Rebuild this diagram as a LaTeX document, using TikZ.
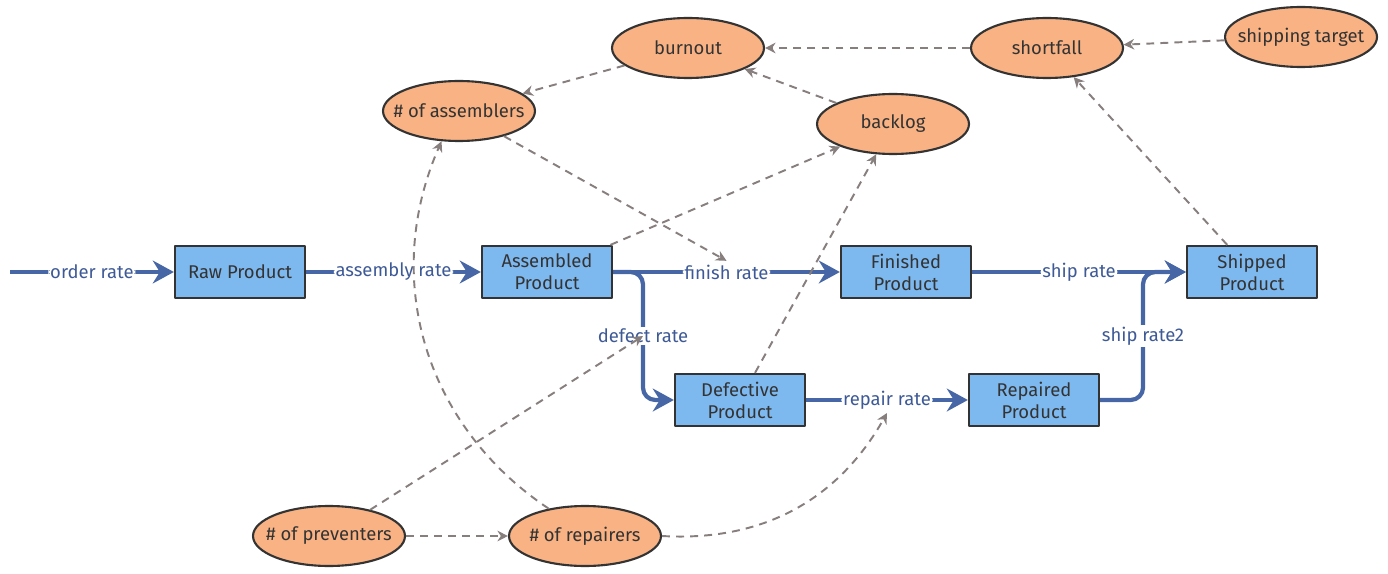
\documentclass[tikz,border=0pt]{standalone}
\usepackage{fontspec}
\setmainfont{Fira Sans}
\usetikzlibrary{arrows.meta,shapes.geometric}

\definecolor{stockblue}{RGB}{125,184,238}
\definecolor{auxorange}{RGB}{248,178,131}
\definecolor{flowblue}{RGB}{70,102,165}
\definecolor{ratetext}{RGB}{62,90,150}
\definecolor{linkgray}{RGB}{135,126,126}
\definecolor{nodetext}{RGB}{51,51,51}

\begin{document}
\begin{tikzpicture}[x=0.02cm, y=-0.02cm,
	line join=round,
	label font/.style={font=\fontsize{10.5}{12.5}\selectfont},
	stock/.style={draw=nodetext, line width=1.3pt, fill=stockblue, 
		minimum width=2.6cm, minimum height=1.04cm, align=center, 
		text=nodetext, inner sep=1pt, label font},
	aux/.style={ellipse, draw=nodetext, line width=1.2pt, fill=auxorange, 
		minimum width=3.04cm, minimum height=1.2cm, inner xsep=-7pt, 
		inner ysep=1pt, text=nodetext, label font},
	flow/.style={flowblue, line width=2.4pt, rounded corners=7pt, 
		-{Stealth[length=12pt, width=13pt, inset=4pt]}},
	rate/.style={fill=white, text=ratetext, inner sep=1pt, label font},
	link/.style={linkgray, line width=1.1pt, dash pattern=on 4.5pt off 3.5pt, 
		-{Stealth[length=6pt, width=6pt]}}]
	
	\useasboundingbox (0,0) rectangle (1388,574);
	
	% stocks
	\node [stock] (raw) at (240,272) {Raw Product};
	\node [stock] (assembled) at (547,272) {Assembled\\Product};
	\node [stock] (finished) at (906,272) {Finished\\Product};
	\node [stock] (shipped) at (1252,272) {Shipped\\Product};
	\node [stock] (defective) at (740,400) {Defective\\Product};
	\node [stock] (repaired) at (1034,400) {Repaired\\Product};
	
	% auxiliaries
	\node [aux] (burnout) at (688,48) {burnout};
	\node [aux] (shortfall) at (1047,48) {shortfall};
	\node [aux] (target) at (1301,37) {shipping target};
	\node [aux] (assemblers) at (459,111) {\# of assemblers};
	\node [aux] (backlog) at (893,124) {backlog};
	\node [aux] (preventers) at (329,536) {\# of preventers};
	\node [aux] (repairers) at (585,536) {\# of repairers};
	
	\coordinate (source) at (10,272);
	\coordinate (split) at (643,272);
	\coordinate (join) at (1143,272);
	
	% flows
	\draw [flow] (source) -- node [rate] (orderrate) {order rate} (raw);
	\draw [flow] (raw) -- node [rate] (assemblyrate) {assembly rate} (assembled);
	\draw [flow] (assembled) -- node [rate] (finishrate) {finish rate} (finished);
	\draw [flow] (assembled.east) -- (split) 
		|- node [rate, pos=0.25] (defectrate) {defect rate} (defective);
	\draw [flow] (finished) -- node [rate] (shiprate) {ship rate} (shipped);
	\draw [flow] (defective) -- node [rate] (repairrate) {repair rate} (repaired);
	\draw [flow] (repaired.east) 
		-| node [rate, pos=0.75] (shiprate2) {ship rate2} (join) -- (shipped);
	
	% links
	\draw [link] (shortfall) -- (burnout);
	\draw [link] (target) -- (shortfall);
	\draw [link] (burnout) -- (assemblers);
	\draw [link] (backlog) -- (burnout);
	\draw [link] (shipped) -- (shortfall);
	\draw [link] (assembled) -- (backlog);
	\draw [link] (defective) -- (backlog);
	\draw [link] (assemblers) -- (finishrate.north);
	\draw [link] (preventers) -- (defectrate.center);
	\draw [link] (preventers) -- (repairers);
	\draw [link] (repairers.143) to [bend left=40] (assemblers.240);
	\draw [link] (repairers.east) to [bend right=32] (repairrate.south);
	
\end{tikzpicture}
\end{document}
